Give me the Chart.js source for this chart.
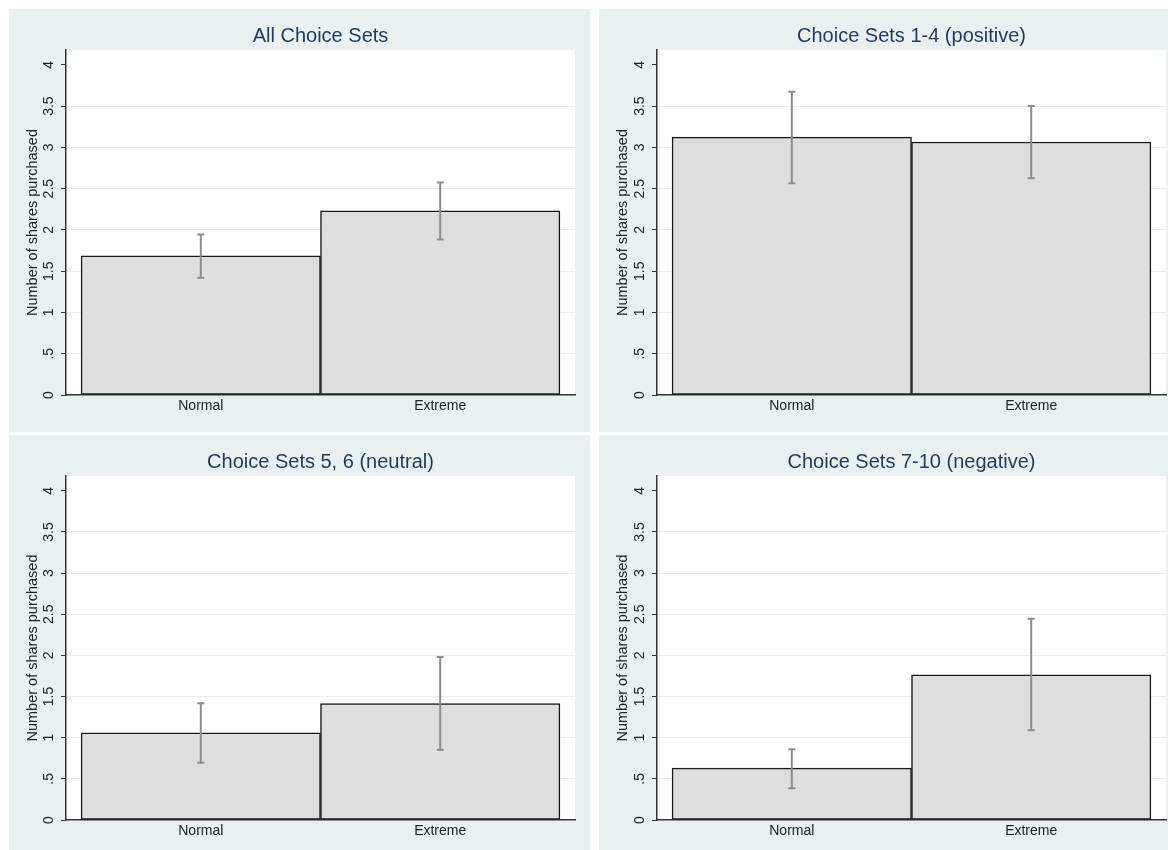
<!DOCTYPE html>
<html>
<head>
<meta charset="utf-8">
<script src="https://cdn.jsdelivr.net/npm/chart.js@4.4.1/dist/chart.umd.min.js"></script>
<style>
    html, body { margin: 0; padding: 0; background: #ffffff; }
    body { width: 1168px; height: 850px; position: relative; overflow: hidden; }
    .panel { position: absolute; background: #e9f0f2; }
    #p1 { left: 9px; top: 9px; width: 581px; height: 423px; }
    #p2 { left: 599px; top: 9px; width: 569px; height: 423px; }
    #p3 { left: 9px; top: 435px; width: 581px; height: 415px; }
    #p4 { left: 599px; top: 435px; width: 569px; height: 415px; }
</style>
</head>
<body>
<div class="panel" id="p1"><canvas id="c1"></canvas></div>
<div class="panel" id="p2"><canvas id="c2"></canvas></div>
<div class="panel" id="p3"><canvas id="c3"></canvas></div>
<div class="panel" id="p4"><canvas id="c4"></canvas></div>
<script>
// Data
const panelTitles = ['All Choice Sets', 'Choice Sets 1-4 (positive)', 'Choice Sets 5, 6 (neutral)', 'Choice Sets 7-10 (negative)'];
const categories = ['Normal', 'Extreme'];
const normalMeans = [1.685, 3.125, 1.06, 0.63];
const extremeMeans = [2.23, 3.065, 1.415, 1.765];
const normalLower = [1.42, 2.565, 0.695, 0.385];
const normalUpper = [1.945, 3.675, 1.42, 0.86];
const extremeLower = [1.885, 2.625, 0.855, 1.09];
const extremeUpper = [2.575, 3.5, 1.98, 2.445];
const yTicks = [0, 0.5, 1, 1.5, 2, 2.5, 3, 3.5, 4];
const yTitle = 'Number of shares purchased';

Chart.defaults.font.family = "'Liberation Sans', Arial, Helvetica, sans-serif";
Chart.defaults.color = '#222222';

const COLORS = {
    title: '#1f3a5f',
    bar: '#dedede',
    barBorder: '#1a1a1a',
    errorBar: '#8c8c8c',
    grid: '#e4edef',
    axis: '#333333'
};

// white plot region
const plotBackground = {
    id: 'plotBackground',
    beforeDraw(chart) {
        const { ctx, chartArea } = chart;
        ctx.save();
        ctx.fillStyle = '#ffffff';
        ctx.fillRect(chartArea.left, chartArea.top, chartArea.right - chartArea.left, chartArea.bottom - chartArea.top);
        ctx.restore();
    }
};

// confidence intervals drawn on the chart scales
const errorBars = {
    id: 'errorBars',
    afterDatasetsDraw(chart) {
        const { ctx } = chart;
        const xs = chart.scales.x;
        const ys = chart.scales.y;
        const bounds = chart.options.plugins.errorBars.bounds;
        ctx.save();
        ctx.strokeStyle = COLORS.errorBar;
        ctx.lineWidth = 2;
        bounds.forEach((b, i) => {
            const x = xs.getPixelForValue(i + 1);
            const yLo = ys.getPixelForValue(b[0]);
            const yHi = ys.getPixelForValue(b[1]);
            ctx.beginPath();
            ctx.moveTo(x, yLo);
            ctx.lineTo(x, yHi);
            ctx.moveTo(x - 3.5, yLo);
            ctx.lineTo(x + 3.5, yLo);
            ctx.moveTo(x - 3.5, yHi);
            ctx.lineTo(x + 3.5, yHi);
            ctx.stroke();
        });
        ctx.restore();
    }
};

function formatTick(v) {
    if (v === 0) return '0';
    return String(v).replace(/^0\./, '.');
}

function makePanel(canvasId, idx, yAxisWidth, rightPad, xAxisHeight) {
    const ctx = document.getElementById(canvasId);
    new Chart(ctx, {
        type: 'bar',
        data: {
            datasets: [{
                data: [
                    { x: 1, y: normalMeans[idx] },
                    { x: 2, y: extremeMeans[idx] }
                ],
                backgroundColor: COLORS.bar,
                borderColor: COLORS.barBorder,
                borderWidth: 1.5,
                borderSkipped: false,
                barPercentage: 1,
                categoryPercentage: 1
            }]
        },
        options: {
            responsive: true,
            maintainAspectRatio: false,
            animation: false,
            events: [],
            layout: { padding: { left: 0, right: rightPad, top: 0, bottom: 0 } },
            plugins: {
                legend: { display: false },
                tooltip: { enabled: false },
                title: {
                    display: true,
                    text: panelTitles[idx],
                    color: COLORS.title,
                    fullSize: false,
                    font: { size: 20, weight: 'normal' },
                    padding: { top: 15, bottom: 2 }
                },
                errorBars: {
                    bounds: [
                        [normalLower[idx], normalUpper[idx]],
                        [extremeLower[idx], extremeUpper[idx]]
                    ]
                }
            },
            scales: {
                x: {
                    type: 'linear',
                    offset: false,
                    min: 0.437,
                    max: 2.563,
                    afterBuildTicks: (axis) => {
                        axis.ticks = categories.map((c, i) => ({ value: i + 1 }));
                    },
                    afterFit: (scale) => { scale.height = xAxisHeight; },
                    grid: { display: false, drawTicks: false, offset: false },
                    border: { display: true, color: COLORS.axis, width: 1.5 },
                    ticks: {
                        padding: 3,
                        font: { size: 14 },
                        color: '#222222',
                        maxRotation: 0,
                        callback: (v) => categories[v - 1] || ''
                    }
                },
                y: {
                    min: 0,
                    max: 4.18,
                    afterBuildTicks: (axis) => {
                        axis.ticks = yTicks.map(v => ({ value: v }));
                    },
                    afterFit: (scale) => { scale.width = yAxisWidth; },
                    grid: {
                        color: (c) => (c.tick && (c.tick.value === 0 || c.tick.value === 4)) ? 'rgba(0,0,0,0)' : COLORS.grid,
                        tickColor: COLORS.axis,
                        tickLength: 5,
                        lineWidth: 1
                    },
                    border: { display: true, color: COLORS.axis, width: 1.5 },
                    ticks: {
                        minRotation: 90,
                        maxRotation: 90,
                        crossAlign: 'center',
                        padding: 2,
                        font: { size: 14 },
                        color: '#222222',
                        callback: (v) => formatTick(v)
                    },
                    title: {
                        display: true,
                        text: yTitle,
                        color: '#222222',
                        font: { size: 14.5 },
                        padding: { top: 15, bottom: 0 }
                    }
                }
            }
        },
        plugins: [plotBackground, errorBars]
    });
}

makePanel('c1', 0, 57, 15, 37);
makePanel('c2', 1, 58, 2, 37);
makePanel('c3', 2, 57, 15, 30);
makePanel('c4', 3, 58, 2, 30);
</script>
</body>
</html>
